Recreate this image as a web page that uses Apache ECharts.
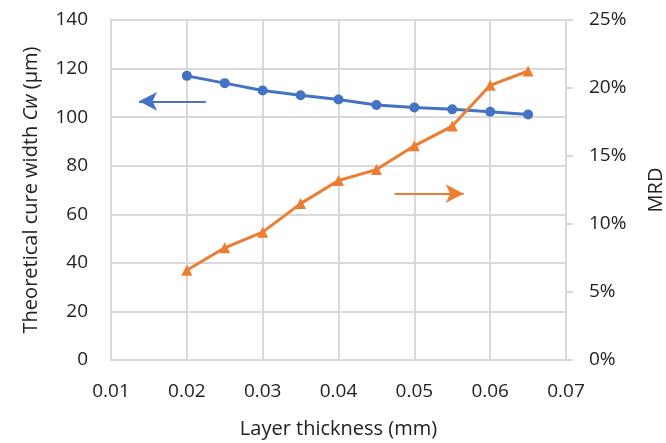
<!DOCTYPE html>
<html><head><meta charset="utf-8">
<script src="https://cdn.jsdelivr.net/npm/echarts@6/dist/echarts.min.js"></script>
<style>html,body{margin:0;padding:0;background:#fff}#c{width:666px;height:443px}</style>
</head><body><div id="c"></div>
<script>
const layerThickness = [0.02, 0.025, 0.03, 0.035, 0.04, 0.045, 0.05, 0.055, 0.06, 0.065];
const cureWidth = [117, 114, 111, 109, 107.3, 105, 104, 103.2, 102.2, 101.1];
const mrd = [0.066, 0.0825, 0.094, 0.115, 0.132, 0.140, 0.1575, 0.172, 0.202, 0.2125];
const xTicks = [0.01, 0.02, 0.03, 0.04, 0.05, 0.06, 0.07];
const leftArrow = [[0.0225, 106.5], [0.0137, 106.5]];
const rightArrow = [[0.0474, 68.5], [0.0565, 68.5]];

const FONT = 'Open Sans';
const grid = '#d9d9d9';
const chart = echarts.init(document.getElementById('c'));
chart.setOption({
  animation: false,
  textStyle: {fontFamily: FONT},
  grid: {left: 111, right: 100, top: 20, bottom: 83, containLabel: false, outerBoundsMode: 'none'},
  xAxis: {
    type: 'value', min: 0.01, max: 0.07, interval: 0.01,
    name: 'Layer thickness (mm)', nameLocation: 'middle', nameGap: 59,
    nameTextStyle: {fontSize: 20, color: '#222', fontFamily: FONT},
    axisLine: {show: true, lineStyle: {color: grid, width: 2}},
    axisTick: {show: false},
    axisLabel: {fontSize: 19, color: '#222', margin: 22, formatter: v => v.toFixed(2)},
    splitLine: {show: true, lineStyle: {color: grid, width: 2}}
  },
  yAxis: [{
    type: 'value', min: 0, max: 140, interval: 20,
    name: '{n|Theoretical cure width }{i|Cw}{n| (μm)}', nameLocation: 'middle', nameGap: 70, nameRotate: 90,
    nameTextStyle: {rich: {n: {fontSize: 20, color: '#222', fontFamily: FONT}, i: {fontSize: 20, color: '#222', fontStyle: 'italic', fontFamily: FONT}}},
    axisLine: {show: true, lineStyle: {color: grid, width: 2}},
    axisTick: {show: false},
    axisLabel: {fontSize: 19, color: '#222', margin: 23},
    splitLine: {show: true, lineStyle: {color: grid, width: 2}}
  }, {
    type: 'value', min: 0, max: 0.25, interval: 0.05, position: 'right',
    name: 'MRD', nameLocation: 'middle', nameGap: 80, nameRotate: 90,
    nameTextStyle: {fontSize: 20, color: '#222', fontFamily: FONT},
    axisLine: {show: true, lineStyle: {color: grid, width: 2}},
    axisTick: {show: true, length: 7, lineStyle: {color: grid, width: 2}},
    axisLabel: {fontSize: 19, color: '#222', margin: 23, formatter: v => Math.round(v * 100) + '%'},
    splitLine: {show: false}
  }],
  series: [{
    type: 'line', yAxisIndex: 0,
    data: layerThickness.map((x, i) => [x, cureWidth[i]]),
    symbol: 'circle', symbolSize: 10,
    lineStyle: {color: '#4472C4', width: 3},
    itemStyle: {color: '#4472C4'},
    markLine: {
      silent: true, symbol: ['none', 'arrow'], symbolSize: [14, 18],
      lineStyle: {color: '#4472C4', width: 2, type: 'solid'},
      label: {show: false},
      data: [[{coord: leftArrow[0]}, {coord: leftArrow[1]}]]
    }
  }, {
    type: 'line', yAxisIndex: 0,
    data: [],
    markLine: {
      silent: true, symbol: ['none', 'arrow'], symbolSize: [14, 18],
      lineStyle: {color: '#ED7D31', width: 2, type: 'solid'},
      label: {show: false},
      data: [[{coord: rightArrow[0]}, {coord: rightArrow[1]}]]
    }
  }, {
    type: 'line', yAxisIndex: 1,
    data: layerThickness.map((x, i) => [x, mrd[i]]),
    symbol: 'triangle', symbolSize: 11,
    lineStyle: {color: '#ED7D31', width: 3},
    itemStyle: {color: '#ED7D31'}
  }]
});
</script></body></html>
